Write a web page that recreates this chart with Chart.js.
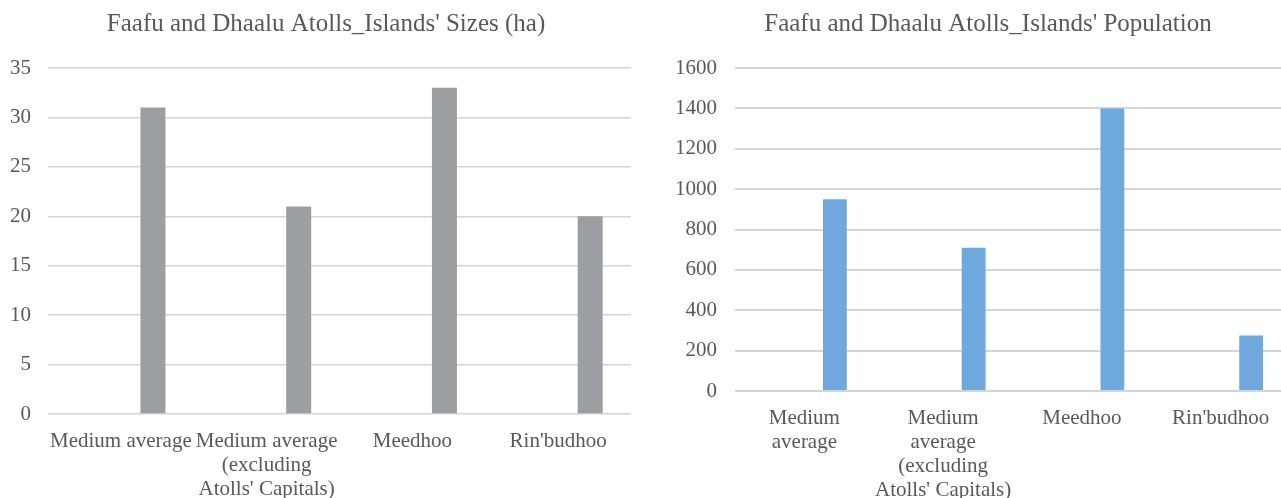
<!DOCTYPE html>
<html>
<head>
<meta charset="utf-8">
<script src="https://cdn.jsdelivr.net/npm/chart.js@4.4.1/dist/chart.umd.min.js"></script>
<style>
  html, body { margin: 0; padding: 0; background: #ffffff; }
  body { width: 1281px; height: 498px; overflow: hidden; position: relative; }
  canvas { position: absolute; top: 0; }
  #sizes { left: 0; }
  #population { left: 652px; }
</style>
</head>
<body>
<canvas id="sizes" width="652" height="498"></canvas>
<canvas id="population" width="660" height="498"></canvas>
<script>
// Island categories and the wrapped tick labels each chart shows for them
const categories = ["Medium average", "Medium average (excluding Atolls' Capitals)", "Meedhoo", "Rin'budhoo"];
const sizeTickLabels = [["Medium average"], ["Medium average", "(excluding", "Atolls' Capitals)"], ["Meedhoo"], ["Rin'budhoo"]];
const populationTickLabels = [["Medium", "average"], ["Medium", "average", "(excluding", "Atolls' Capitals)"], ["Meedhoo"], ["Rin'budhoo"]];

// Island sizes in hectares and resident population
const sizeHa = [31, 21, 33, 20];
const population = [950, 710, 1400, 275];
// First series of each workbook chart holds no values
const blankSeries = [null, null, null, null];

// Value axis ticks
const sizeTicks = { max: 35, step: 5 };
const populationTicks = { max: 1600, step: 200 };

const textColor = '#595959';
const serif = '"Liberation Serif", "Times New Roman", serif';
const gridColor = '#d3d5d8';

// Centres the title over a given x position instead of the padded box
const titleCenterPlugin = {
  id: 'titleCenter',
  afterLayout(chart, args, opts) {
    const t = chart.titleBlock;
    if (!t || opts.center == null) return;
    const half = 320;
    t.left = opts.center - half;
    t.right = opts.center + half;
    t.width = half * 2;
  }
};

function barChart(canvasId, opts) {
  return new Chart(document.getElementById(canvasId), {
    type: 'bar',
    plugins: [titleCenterPlugin],
    data: {
      labels: opts.tickLabels,
      datasets: [
        { label: 'Series1', data: blankSeries, backgroundColor: opts.color },
        { label: 'Series2', data: opts.values, backgroundColor: opts.color }
      ]
    },
    options: {
      responsive: false,
      animation: false,
      devicePixelRatio: 1,
      layout: { padding: opts.padding },
      datasets: { bar: { categoryPercentage: 0.88, barPercentage: 0.39 } },
      plugins: {
        legend: { display: false },
        tooltip: { enabled: false },
        titleCenter: { center: opts.titleCenter },
        title: {
          display: true,
          text: opts.title,
          color: textColor,
          font: { family: serif, size: 25, weight: 'normal', lineHeight: 1.2 },
          padding: { top: 9, bottom: 29 }
        }
      },
      scales: {
        x: {
          grid: { display: false },
          border: { display: false },
          ticks: {
            color: textColor,
            font: { family: serif, size: 21, lineHeight: 1.14 },
            autoSkip: false,
            maxRotation: 0,
            minRotation: 0,
            padding: 8
          },
          afterFit(scale) { scale.height = opts.xHeight; }
        },
        y: {
          min: 0,
          max: opts.ticks.max,
          border: { display: false },
          grid: { color: gridColor, lineWidth: opts.gridWidth, drawTicks: false },
          ticks: {
            stepSize: opts.ticks.step,
            color: textColor,
            font: { family: serif, size: 21 },
            padding: opts.tickPad,
            callback: (value) => String(value)
          },
          afterFit(scale) { scale.width = opts.yWidth; }
        }
      }
    }
  });
}

barChart('sizes', {
  title: "Faafu and Dhaalu Atolls_Islands' Sizes (ha)",
  titleCenter: 326,
  tickLabels: sizeTickLabels,
  values: sizeHa,
  color: '#9c9fa2',
  ticks: sizeTicks,
  padding: { left: 0, right: 21, top: 0, bottom: 0 },
  yWidth: 48,
  tickPad: 17,
  xHeight: 84,
  gridWidth: 1.5
});

barChart('population', {
  title: "Faafu and Dhaalu Atolls_Islands' Population",
  titleCenter: 336,
  tickLabels: populationTickLabels,
  values: population,
  color: '#6fa8dc',
  ticks: populationTicks,
  padding: { left: 0, right: 22, top: 0, bottom: 0 },
  yWidth: 83,
  tickPad: 18,
  xHeight: 107,
  gridWidth: 2
});
</script>
</body>
</html>
